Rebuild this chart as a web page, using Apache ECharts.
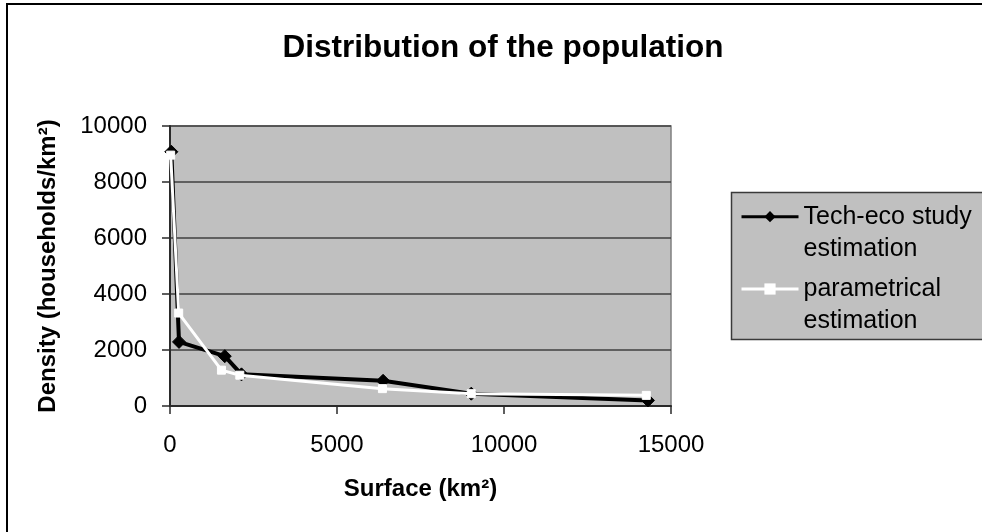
<!DOCTYPE html>
<html>
<head>
<meta charset="utf-8">
<script src="https://cdn.jsdelivr.net/npm/echarts@6/dist/echarts.min.js"></script>
<style>
  html, body { margin: 0; padding: 0; background: #fff; }
  #chart { width: 982px; height: 532px; }
</style>
</head>
<body>
<div id="chart"></div>
<script>
// Surface (km²) vs. household density for the two estimation methods
const techSurface = [40, 270, 1640, 2140, 6380, 9020, 14310];
const techDensity = [9080, 2290, 1780, 1130, 900, 440, 200];
const paramSurface = [20, 260, 1540, 2090, 6360, 9020, 14260];
const paramDensity = [8960, 3320, 1280, 1100, 620, 440, 380];

const xTicks = { min: 0, max: 15000, interval: 5000 };
const yTicks = { min: 0, max: 10000, interval: 2000 };

const seriesNames = ['Tech-eco study\nestimation', 'parametrical\nestimation'];

const FONT = '"Liberation Sans", Arial, Helvetica, sans-serif';

function pairs(xs, ys) {
  return xs.map((x, i) => [x, ys[i]]);
}

const plain = v => String(v);

const chart = echarts.init(document.getElementById('chart'), null, { renderer: 'canvas' });

chart.setOption({
  animation: false,
  backgroundColor: '#ffffff',
  textStyle: { fontFamily: FONT },
  title: {
    text: 'Distribution of the population',
    left: 498,
    textAlign: 'center',
    top: 28,
    textStyle: { fontFamily: FONT, fontSize: 31.5, fontWeight: 'bold', color: '#000', lineHeight: 31.5 }
  },
  graphic: [
    {
      type: 'rect',
      z: -10,
      shape: { x: 7, y: 4, width: 1100, height: 700 },
      style: { fill: 'none', stroke: '#000', lineWidth: 2 }
    },
    {
      type: 'rect',
      z: -5,
      shape: { x: 731.5, y: 192.5, width: 300, height: 147 },
      style: { fill: '#c0c0c0', stroke: '#3a3a3a', lineWidth: 1.5 }
    }
  ],
  legend: {
    data: seriesNames,
    orient: 'vertical',
    left: 740,
    top: 168.7,
    padding: 0,
    itemGap: -23.7,
    itemWidth: 57,
    itemHeight: 14,
    selectedMode: false,
    lineStyle: { width: 3 },
    // leading blank line puts the marker beside the first line of each entry
    formatter: name => '\n' + name,
    textStyle: {
      fontFamily: FONT,
      fontSize: 25,
      lineHeight: 32,
      color: '#000'
    }
  },
  grid: {
    left: 170,
    right: 311,
    top: 126,
    bottom: 126,
    show: true,
    backgroundColor: '#c0c0c0',
    borderColor: '#808080',
    borderWidth: 1.5
  },
  xAxis: {
    type: 'value',
    min: xTicks.min,
    max: xTicks.max,
    interval: xTicks.interval,
    name: 'Surface (km²)',
    nameLocation: 'middle',
    nameGap: 71,
    nameTextStyle: { fontFamily: FONT, fontSize: 24, fontWeight: 'bold', color: '#000', lineHeight: 24 },
    axisLine: { show: true, onZero: false, lineStyle: { color: '#2a2a2a', width: 2 } },
    axisTick: { show: true, inside: false, length: 8, lineStyle: { color: '#2a2a2a', width: 1.5 } },
    axisLabel: { fontFamily: FONT, fontSize: 24, color: '#000', margin: 27, lineHeight: 24, formatter: plain },
    splitLine: { show: false }
  },
  yAxis: {
    type: 'value',
    min: yTicks.min,
    max: yTicks.max,
    interval: yTicks.interval,
    name: 'Density (households/km²)',
    nameLocation: 'middle',
    nameRotate: 90,
    nameGap: 110,
    nameTextStyle: { fontFamily: FONT, fontSize: 24, fontWeight: 'bold', color: '#000', lineHeight: 24 },
    axisLine: { show: true, onZero: false, lineStyle: { color: '#2a2a2a', width: 2 } },
    axisTick: { show: true, inside: false, length: 8, lineStyle: { color: '#2a2a2a', width: 1.5 } },
    axisLabel: { fontFamily: FONT, fontSize: 24, color: '#000', margin: 23, lineHeight: 24, formatter: plain },
    splitLine: { show: true, lineStyle: { color: '#404040', width: 1.5 } }
  },
  series: [
    {
      name: seriesNames[0],
      type: 'line',
      data: pairs(techSurface, techDensity),
      symbol: 'diamond',
      symbolSize: 13,
      showAllSymbol: true,
      lineStyle: { color: '#000', width: 4 },
      itemStyle: { color: '#000', borderColor: '#000' },
      z: 3
    },
    {
      name: seriesNames[1],
      type: 'line',
      data: pairs(paramSurface, paramDensity),
      symbol: 'rect',
      symbolSize: 8,
      showAllSymbol: true,
      lineStyle: { color: '#fff', width: 3 },
      itemStyle: { color: '#fff', borderColor: '#fff' },
      z: 4
    }
  ]
});
</script>
</body>
</html>
